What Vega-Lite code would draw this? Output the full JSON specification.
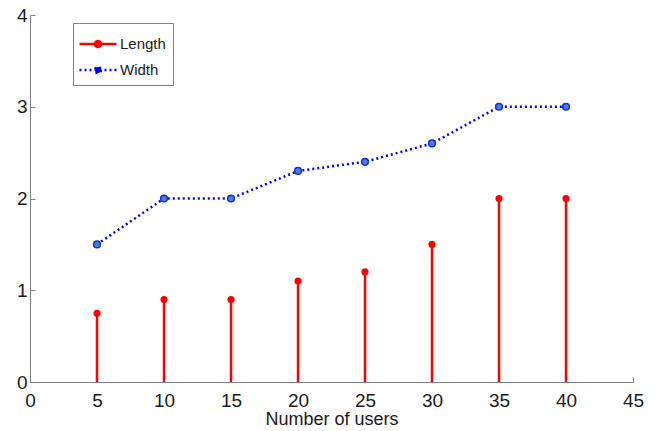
{
  "$schema": "https://vega.github.io/schema/vega-lite/v6.json",
  "width": 603,
  "height": 367,
  "autosize": {"type": "none"},
  "padding": {"left": 30, "top": 15, "right": 22, "bottom": 49},
  "background": "white",
  "config": {
    "view": {"stroke": null},
    "font": "Liberation Sans",
    "axis": {
      "grid": false,
      "domainColor": "#808080",
      "tickColor": "#808080",
      "tickSize": -5,
      "labelFont": "Liberation Sans",
      "labelFontSize": 19,
      "labelColor": "#1a1a1a",
      "titleFont": "Liberation Sans",
      "titleFontSize": 18,
      "titleFontWeight": "normal",
      "titleColor": "#1a1a1a"
    }
  },
  "data": {
    "values": [
      {"users": 5, "value": 0.75, "series": "Length"},
      {"users": 10, "value": 0.9, "series": "Length"},
      {"users": 15, "value": 0.9, "series": "Length"},
      {"users": 20, "value": 1.1, "series": "Length"},
      {"users": 25, "value": 1.2, "series": "Length"},
      {"users": 30, "value": 1.5, "series": "Length"},
      {"users": 35, "value": 2.0, "series": "Length"},
      {"users": 40, "value": 2.0, "series": "Length"},
      {"users": 5, "value": 1.5, "series": "Width"},
      {"users": 10, "value": 2.0, "series": "Width"},
      {"users": 15, "value": 2.0, "series": "Width"},
      {"users": 20, "value": 2.3, "series": "Width"},
      {"users": 25, "value": 2.4, "series": "Width"},
      {"users": 30, "value": 2.6, "series": "Width"},
      {"users": 35, "value": 3.0, "series": "Width"},
      {"users": 40, "value": 3.0, "series": "Width"}
    ]
  },
  "encoding": {
    "x": {
      "field": "users", "type": "quantitative",
      "scale": {"domain": [0, 45], "nice": false, "zero": false},
      "axis": {"values": [0,5,10,15,20,25,30,35,40,45], "title": "Number of users", "labelPadding": 14, "titlePadding": 0, "labelFlush": false}
    },
    "y": {
      "field": "value", "type": "quantitative",
      "scale": {"domain": [0, 4], "nice": false},
      "axis": {"values": [0,1,2,3,4], "title": null, "labelPadding": 8}
    }
  },
  "layer": [
    {
      "transform": [{"filter": "datum.series === 'Length'"}],
      "mark": {"type": "rule", "strokeWidth": 2.5},
      "encoding": {
        "y2": {"datum": 0},
        "color": {
          "field": "series", "type": "nominal",
          "scale": {"domain": ["Length", "Width"], "range": ["#ff0000", "#0000ff"]},
          "legend": {
            "title": null,
            "orient": "none",
            "legendX": 43,
            "legendY": 8,
            "padding": 7,
            "strokeColor": "#808080",
            "fillColor": "white",
            "labelFontSize": 15,
            "labelFont": "Liberation Sans",
            "labelColor": "#1a1a1a",
            "labelExpr": "datum.label + '   '",
            "symbolType": "M-1.48,0H1.48M0.12,0A0.12,0.12,0,1,1,-0.12,0A0.12,0.12,0,1,1,0.12,0ZM0.24,0A0.24,0.24,0,1,1,-0.24,0A0.24,0.24,0,1,1,0.24,0Z",
            "symbolSize": 625,
            "symbolStrokeWidth": 2.5,
            "symbolFillColor": "#0000ff",
            "symbolOffset": 4,
            "rowPadding": 4,
            "labelOffset": 8
          }
        },
        "strokeDash": {
          "field": "series", "type": "nominal",
          "scale": {"domain": ["Length", "Width"], "range": [[1, 0], [2, 3]]}
        }
      }
    },
    {
      "transform": [{"filter": "datum.series === 'Length'"}],
      "mark": {"type": "point", "filled": true, "shape": "circle", "size": 50, "opacity": 1, "color": "#ff0000"}
    },
    {
      "transform": [{"filter": "datum.series === 'Width'"}],
      "mark": {"type": "line", "strokeWidth": 2.5},
      "encoding": {
        "color": {"field": "series", "type": "nominal"},
        "strokeDash": {"field": "series", "type": "nominal"}
      }
    },
    {
      "transform": [{"filter": "datum.series === 'Width'"}],
      "mark": {"type": "point", "filled": true, "shape": "circle", "size": 45, "opacity": 1, "fill": "#4d7fd6", "stroke": "#1030d8", "strokeWidth": 1.5}
    }
  ]
}
